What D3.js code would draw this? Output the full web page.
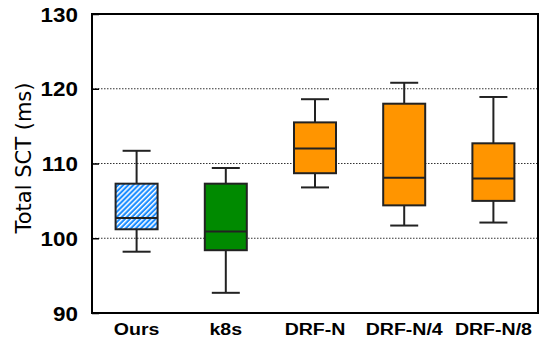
<!DOCTYPE html>
<html><head><meta charset="utf-8">
<script src="https://cdn.jsdelivr.net/npm/d3@7/dist/d3.min.js"></script>
<style>body{margin:0;background:#fff}svg{display:block}</style>
</head><body><svg id="c" width="541" height="341"></svg>
<script>
const categories = ["Ours","k8s","DRF-N","DRF-N/4","DRF-N/8"];
const whiskerLow  = [98.2, 92.7, 106.8, 101.7, 102.1];
const q1          = [101.2, 98.4, 108.7, 104.4, 105.0];
const median      = [102.7, 100.9, 112.0, 108.1, 108.0];
const q3          = [107.3, 107.3, 115.5, 118.0, 112.7];
const whiskerHigh = [111.7, 109.4, 118.6, 120.8, 118.9];
const yTicks = [90, 100, 110, 120, 130];
const gridValues = [100, 110, 120];
const fills = ["url(#hatch)", "#008a00", "#ff9500", "#ff9500", "#ff9500"];

const svg = d3.select("#c");
const m = {l:92, r:538, t:14, b:313};
const x = d3.scaleBand().domain(categories).range([m.l, m.r]).padding(0);
const y = d3.scaleLinear().domain([90,130]).range([m.b, m.t]);
const FONT = "Liberation Sans, Arial, Helvetica, sans-serif";

const defs = svg.append("defs");
const P = 3.6;
const pat = defs.append("pattern").attr("id","hatch").attr("patternUnits","userSpaceOnUse")
  .attr("width",P).attr("height",P).attr("patternTransform","rotate(45)");
pat.append("rect").attr("width",P).attr("height",P).attr("fill","#1a8cff");
pat.append("rect").attr("x",0).attr("width",1.5).attr("height",P).attr("fill","#fff");

// grid
svg.append("g").selectAll("line").data(gridValues).join("line")
  .attr("x1",m.l).attr("x2",m.r).attr("y1",d=>y(d)).attr("y2",d=>y(d))
  .attr("stroke","#333").attr("stroke-width",1.2).attr("stroke-dasharray","1.5,1.5");

// y axis
const ya = svg.append("g").attr("transform",`translate(${m.l},0)`)
  .call(d3.axisRight(y).tickValues(yTicks).tickSize(7).tickFormat(d3.format("d")));
ya.select(".domain").remove();
ya.selectAll("line").attr("stroke","#000").attr("stroke-width",1.5);
ya.selectAll("text").attr("x",-12.2).attr("text-anchor","end").attr("dy","0.36em")
  .attr("transform","scale(1.15,1)")
  .style("font-family",FONT).style("font-weight","bold").style("font-size","19.5px").attr("fill","#000");

// x axis labels
const xa = svg.append("g").attr("transform",`translate(0,${m.b})`)
  .call(d3.axisBottom(x).tickSize(0));
xa.select(".domain").remove();
xa.selectAll("text").attr("y",22).attr("dy",0).attr("transform","scale(1.15,1)")
  .style("font-family",FONT).style("font-weight","bold").style("font-size","17px").attr("fill","#000");

// y title
svg.append("text").attr("transform",`translate(31,${158}) rotate(-90)`)
  .attr("text-anchor","middle").style("font-family","DejaVu Sans, sans-serif")
  .style("font-size","21px").attr("fill","#000").text("Total SCT (ms)");

// boxes
const bw = 42, cw = 28;
const g = svg.append("g").selectAll("g").data(categories).join("g")
  .attr("transform",(d)=>`translate(${x(d)+x.bandwidth()/2},0)`);
g.append("line").attr("y1",(d,i)=>y(whiskerLow[i])).attr("y2",(d,i)=>y(whiskerHigh[i]))
  .attr("stroke","#222").attr("stroke-width",2);
g.append("line").attr("x1",-cw/2).attr("x2",cw/2).attr("y1",(d,i)=>y(whiskerLow[i])).attr("y2",(d,i)=>y(whiskerLow[i]))
  .attr("stroke","#222").attr("stroke-width",2);
g.append("line").attr("x1",-cw/2).attr("x2",cw/2).attr("y1",(d,i)=>y(whiskerHigh[i])).attr("y2",(d,i)=>y(whiskerHigh[i]))
  .attr("stroke","#222").attr("stroke-width",2);
g.append("rect").attr("x",-bw/2).attr("width",bw)
  .attr("y",(d,i)=>y(q3[i])).attr("height",(d,i)=>y(q1[i])-y(q3[i]))
  .attr("fill",(d,i)=>fills[i]).attr("stroke","#222").attr("stroke-width",2);
g.append("line").attr("x1",-bw/2).attr("x2",bw/2).attr("y1",(d,i)=>y(median[i])).attr("y2",(d,i)=>y(median[i]))
  .attr("stroke","#222").attr("stroke-width",2);

// frame
svg.append("rect").attr("x",m.l).attr("y",m.t).attr("width",m.r-m.l).attr("height",m.b-m.t)
  .attr("fill","none").attr("stroke","#000").attr("stroke-width",2);
</script></body></html>
